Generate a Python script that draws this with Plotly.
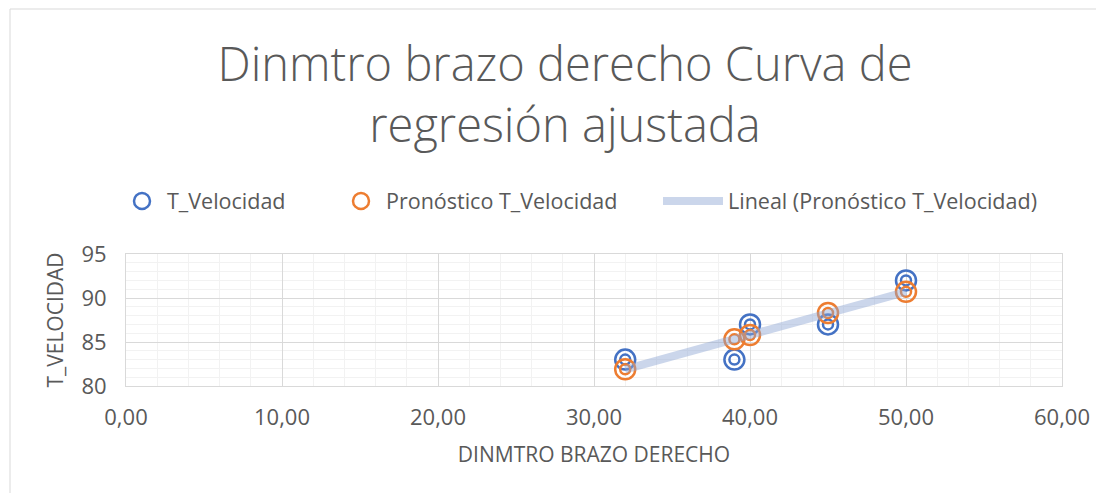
import plotly.graph_objects as go

# Data
diam = [32, 39, 40, 45, 50]
t_vel = [83, 83, 87, 87, 92]
pron_t_vel = [81.9, 85.3, 85.8, 88.3, 90.7]

x_ticks = [0, 10, 20, 30, 40, 50, 60]
y_ticks = [80, 85, 90, 95]

BLUE = "#4472C4"
ORANGE = "#ED7D31"
TEXT = "#595959"
FONT = "Open Sans"

W, H = 1096, 485          # page body has an 8px margin
PL, PR, PT, PB = 118, 1054, 246, 378   # plot area in figure pixels

fig = go.Figure()

fig.add_trace(go.Scatter(
    x=diam, y=t_vel, mode="markers", name="T_Velocidad", legend="legend",
    marker=dict(symbol="circle-open", size=20, line=dict(width=2.5), color=BLUE),
))
fig.add_trace(go.Scatter(
    x=diam, y=t_vel, mode="markers", showlegend=False,
    marker=dict(symbol="circle-open", size=10, line=dict(width=2.5), color=BLUE),
))
fig.add_trace(go.Scatter(
    x=diam, y=pron_t_vel, mode="markers", name="Pronóstico T_Velocidad", legend="legend2",
    marker=dict(symbol="circle-open", size=20, line=dict(width=2.5), color=ORANGE),
))
fig.add_trace(go.Scatter(
    x=diam, y=pron_t_vel, mode="markers", showlegend=False,
    marker=dict(symbol="circle-open", size=10, line=dict(width=2.5), color=ORANGE),
))
fig.add_trace(go.Scatter(
    x=diam, y=pron_t_vel, mode="lines", name="Lineal (Pronóstico T_Velocidad)", legend="legend3",
    line=dict(color="rgba(140,165,210,0.45)", width=8),
))

axis_common = dict(
    showline=True, linecolor="#D9D9D9", linewidth=1, mirror=True,
    gridcolor="#D9D9D9", gridwidth=1, zeroline=False,
    tickfont=dict(family=FONT, size=22, color=TEXT),
    ticks="",
)

legend_common = dict(
    orientation="h", xref="container", xanchor="left",
    yref="container", y=1 - 193 / H, yanchor="middle",
    font=dict(family=FONT, size=21.5, color=TEXT),
    bgcolor="rgba(0,0,0,0)", borderwidth=0,
)

fig.update_layout(
    width=W, height=H,
    margin=dict(l=PL, r=W - PR, t=PT, b=H - PB),
    paper_bgcolor="white", plot_bgcolor="white",
    separators=",.",
    font=dict(family=FONT, color=TEXT),
    title=dict(
        text="Dinmtro brazo derecho Curva de<br>regresión ajustada",
        font=dict(family=FONT, size=47, color=TEXT, weight=300),
        xref="container", x=557 / W, xanchor="center",
        yref="container", y=1 - 73 / H, yanchor="top",
    ),
    legend=dict(x=109 / W, itemwidth=40, **legend_common),
    legend2=dict(x=328 / W, itemwidth=40, **legend_common),
    legend3=dict(x=650 / W, itemwidth=60, **legend_common),
    xaxis=dict(
        range=[0, 60], tickmode="array", tickvals=x_ticks, tickformat=".2f",
        ticklabelstandoff=12,
        minor=dict(dtick=2, showgrid=True, gridcolor="#F2F2F2", gridwidth=1),
        title=dict(text="DINMTRO BRAZO DERECHO", font=dict(family=FONT, size=21, color=TEXT), standoff=16),
        **axis_common,
    ),
    yaxis=dict(
        range=[80, 95], tickmode="array", tickvals=y_ticks,
        ticklabelstandoff=14,
        minor=dict(dtick=1, showgrid=True, gridcolor="#F2F2F2", gridwidth=1),
        title=dict(text="T_VELOCIDAD", font=dict(family=FONT, size=21, color=TEXT), standoff=12),
        **axis_common,
    ),
    shapes=[dict(
        type="rect", xref="paper", yref="paper",
        x0=(2 - PL) / (PR - PL), x1=(1120 - PL) / (PR - PL),
        y0=(PB - 520) / (PB - PT), y1=(PB - 1) / (PB - PT),
        line=dict(color="#D9D9D9", width=1), fillcolor="rgba(0,0,0,0)", layer="below",
    )],
)

fig.write_html("out.html")
